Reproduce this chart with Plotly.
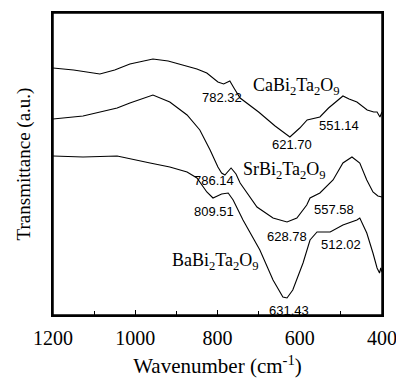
import plotly.graph_objects as go

# Wavenumber (cm-1) and transmittance (a.u.)
ca_wn = [1200, 1150, 1086, 1050, 1013, 957, 920, 884, 850, 826, 799, 785, 770, 760, 745,
         700, 660, 624, 600, 582, 565, 551, 530, 502, 495, 480, 461, 436, 420, 412, 405, 400]
ca_t = [247, 245, 241, 245, 251, 256, 254, 250, 246, 242, 233, 231, 234, 227, 217,
        203, 189, 178, 187, 195, 197, 198, 207, 217, 219, 216, 213, 205, 203, 203, 198, 203]

sr_wn = [1200, 1127, 1044, 1013, 957, 916, 874, 843, 818, 799, 790, 782, 767, 755, 745,
         704, 665, 631, 607, 583, 575, 551, 519, 495, 473, 454, 437, 422, 410, 400]
sr_t = [196, 199, 207, 212, 220, 213, 200, 185, 165, 148, 142, 140, 147, 141, 132,
        108, 97, 93, 97, 110, 117, 122, 135, 152, 158, 152, 135, 123, 119, 118]

ba_wn = [1200, 1127, 1044, 1013, 964, 916, 874, 850, 826, 811, 790, 774, 762, 738, 697,
         665, 641, 631, 617, 592, 575, 558, 526, 495, 461, 454, 437, 422, 412, 406, 403, 400]
ba_t = [159, 158, 159, 156, 152, 148, 143, 137, 123, 117, 121, 122, 115, 95, 65,
        35, 18, 17, 25, 52, 75, 83, 83, 90, 95, 97, 82, 62, 47, 42, 47, 43]

compound_labels = ["CaBi<sub>2</sub>Ta<sub>2</sub>O<sub>9</sub>",
                   "SrBi<sub>2</sub>Ta<sub>2</sub>O<sub>9</sub>",
                   "BaBi<sub>2</sub>Ta<sub>2</sub>O<sub>9</sub>"]
peak_labels = ["782.32", "621.70", "551.14", "786.14", "809.51",
               "557.58", "628.78", "512.02", "631.43"]
x_ticks = [1200, 1000, 800, 600, 400]

fig = go.Figure()
for wn, t in [(ca_wn, ca_t), (sr_wn, sr_t), (ba_wn, ba_t)]:
    fig.add_trace(go.Scatter(x=wn, y=t, mode="lines",
                             line=dict(color="black", width=1.1), showlegend=False))

serif = "Liberation Serif, Times New Roman, serif"
sans = "Liberation Sans, Arial, sans-serif"

comp_pos = [(609, 229), (636, 145), (804, 54)]
for (x, y), txt in zip(comp_pos, compound_labels):
    fig.add_annotation(x=x, y=y, text=txt, showarrow=False,
                       font=dict(family=serif, size=18, color="black"))

peak_pos = [(789, 218), (619, 171), (505, 190), (809, 135), (809, 104),
            (517, 106), (631, 79), (500, 71), (626, 5)]
for (x, y), txt in zip(peak_pos, peak_labels):
    fig.add_annotation(x=x, y=y, text=txt, showarrow=False,
                       font=dict(family=sans, size=13, color="black"))

# plot frame
fig.add_shape(type="rect", xref="paper", yref="paper", x0=0, y0=0, x1=1, y1=1,
              line=dict(color="#000000", width=1.5), layer="above")

fig.update_layout(
    width=396, height=380,
    margin=dict(l=53, r=14, t=13, b=65),
    paper_bgcolor="white", plot_bgcolor="white",
    xaxis=dict(range=[1200, 400], tickvals=x_ticks, ticks="inside", ticklen=5,
               tickcolor="black", showline=True, linecolor="#000000", linewidth=1.5,
               mirror=True, showgrid=False, zeroline=False, ticklabelstandoff=4,
               ticklabeloverflow="allow", automargin=False,
               minor=dict(dtick=100, ticks="inside", ticklen=4, tickcolor="black"),
               tickfont=dict(family=serif, size=20, color="black"),
               title=dict(text="Wavenumber (cm<sup>-1</sup>)",
                          font=dict(family=serif, size=21, color="black"), standoff=11)),
    yaxis=dict(range=[0, 302], showticklabels=False, ticks="", automargin=False,
               showline=True, linecolor="#000000", linewidth=1.5, mirror=True,
               showgrid=False, zeroline=False,
               title=dict(text="Transmittance (a.u.)",
                          font=dict(family=serif, size=19, color="black"), standoff=16)),
)

fig.write_html("out.html")
